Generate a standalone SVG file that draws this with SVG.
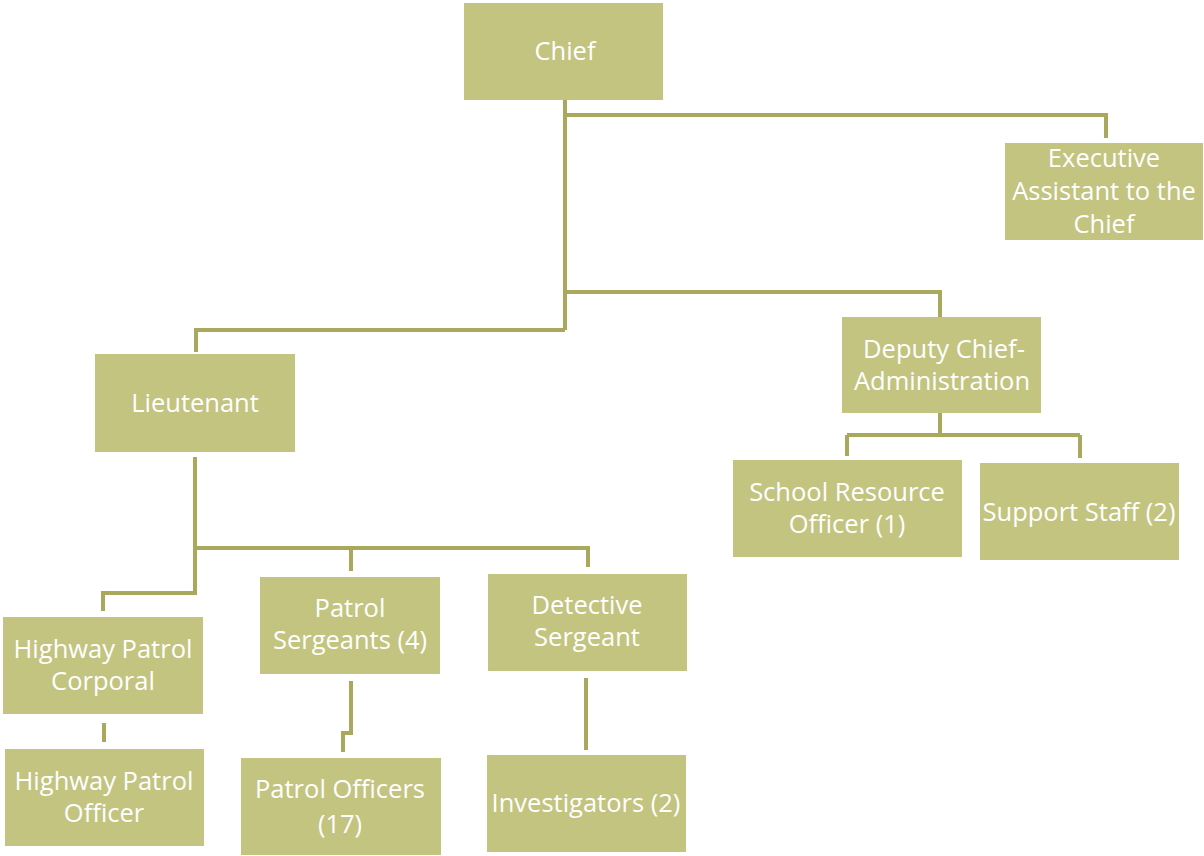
<svg xmlns="http://www.w3.org/2000/svg" width="1204" height="856" viewBox="0 0 1204 856">
<style>
.box{fill:#c3c480;}
.t{fill:#ffffff;font-family:"Open Sans","Liberation Sans",sans-serif;font-size:25.5px;text-anchor:middle;}
.c{fill:none;stroke:#a9a85d;stroke-width:4;stroke-linejoin:miter;}
</style>
<rect width="1204" height="856" fill="#ffffff"/>
<g id="connectors">
<path class="c" d="M565,100 V330 M565,115 H1106 V138 M565,292 H940 V318 M565,330 H196 V352"/>
<path class="c" d="M940,413 V435 M847,435 H1080 M847,435 V456 M1080,435 V458"/>
<path class="c" d="M195,457 V593 H103 V611 M195,548 H588 V567 M351,548 V571"/>
<path class="c" d="M104,723 V742"/>
<path class="c" d="M351,681 V733 H343 V752"/>
<path class="c" d="M586,678 V750"/>
</g>
<g id="chief"><rect class="box" x="464" y="3" width="199" height="97"/><text class="t" x="565" y="60">Chief</text></g>
<g id="exec"><rect class="box" x="1005" y="143" width="198" height="97"/><text class="t" x="1104" y="167">Executive</text><text class="t" x="1104" y="200">Assistant to the</text><text class="t" x="1104" y="233">Chief</text></g>
<g id="deputy"><rect class="box" x="842" y="317" width="199" height="96"/><text class="t" x="944" y="358">Deputy Chief-</text><text class="t" x="942" y="390">Administration</text></g>
<g id="sro"><rect class="box" x="733" y="460" width="229" height="97"/><text class="t" x="847" y="501">School Resource</text><text class="t" x="847" y="533">Officer (1)</text></g>
<g id="support"><rect class="box" x="980" y="463" width="199" height="97"/><text class="t" x="1079" y="521">Support Staff (2)</text></g>
<g id="lieutenant"><rect class="box" x="95" y="354" width="200" height="98"/><text class="t" x="195" y="412">Lieutenant</text></g>
<g id="hpc"><rect class="box" x="3" y="617" width="200" height="97"/><text class="t" x="103" y="658">Highway Patrol</text><text class="t" x="103" y="690">Corporal</text></g>
<g id="hpo"><rect class="box" x="5" y="749" width="199" height="97"/><text class="t" x="104" y="790">Highway Patrol</text><text class="t" x="104" y="822">Officer</text></g>
<g id="ps"><rect class="box" x="260" y="577" width="180" height="97"/><text class="t" x="350" y="617">Patrol</text><text class="t" x="350" y="649">Sergeants (4)</text></g>
<g id="po"><rect class="box" x="241" y="758" width="200" height="97"/><text class="t" x="340" y="798">Patrol Officers</text><text class="t" x="340" y="833">(17)</text></g>
<g id="ds"><rect class="box" x="488" y="574" width="199" height="97"/><text class="t" x="587" y="614">Detective</text><text class="t" x="587" y="646">Sergeant</text></g>
<g id="inv"><rect class="box" x="487" y="755" width="199" height="97"/><text class="t" x="586" y="812">Investigators (2)</text></g>
</svg>
